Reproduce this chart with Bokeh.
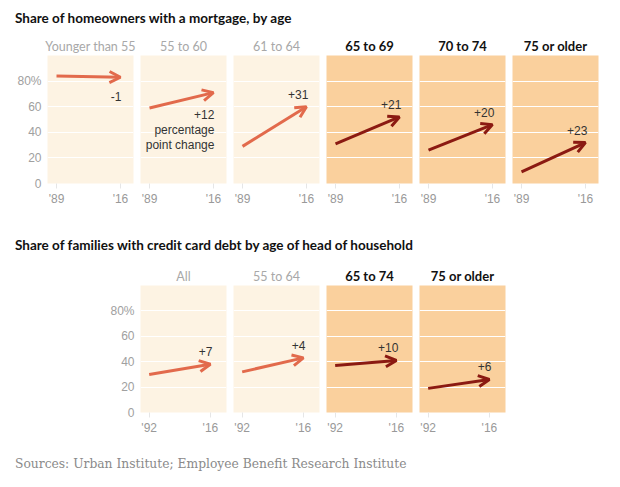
from bokeh.plotting import figure
from bokeh.models import (ColumnDataSource, Arrow, OpenHead, FixedTicker, Range1d,
                          Div, Spacer)
from bokeh.layouts import row, column
from bokeh.embed import file_html
from bokeh.resources import INLINE
from bokeh.core.properties import value

# ---------------- data ----------------
mort_groups = ["Younger than 55", "55 to 60", "61 to 64", "65 to 69", "70 to 74", "75 or older"]
mort_1989 = [84, 59, 29, 31, 26, 9]
mort_2016 = [83, 71, 60, 52, 46, 32]
mort_change = ["-1", "+12\npercentage\npoint change", "+31", "+21", "+20", "+23"]
mort_years = [1989, 2016]
mort_year_labels = ["'89", "'16"]

cc_groups = ["All", "55 to 64", "65 to 74", "75 or older"]
cc_1992 = [30, 32, 37, 19]
cc_2016 = [38, 43, 41, 26]
cc_change = ["+7", "+4", "+10", "+6"]
cc_years = [1992, 2016]
cc_year_labels = ["'92", "'16"]

y_ticks = [0, 20, 40, 60, 80]
y_tick_labels = ["0", "20", "40", "60", "80%"]

older_groups = {"65 to 69", "70 to 74", "75 or older", "65 to 74"}
labels_below = {"Younger than 55", "55 to 60"}

# ---------------- styles ----------------
LIGHT_BG = "#fdf3e3"
DARK_BG = "#fad09d"
LIGHT_ARROW = "#e26a4c"
DARK_ARROW = "#8b1a12"
HEAD = "Lato"
SANS = "Liberation Sans"


def panel(group, start, end, change, years, year_labels, xr, frame_h, first):
    older = group in older_groups
    left = 39 if first else 0
    p = figure(width=left + 86 + 7, height=20 + frame_h + 25,
               x_range=Range1d(*xr), y_range=Range1d(0, 100),
               output_backend="svg", toolbar_location=None,
               min_border=0, min_border_left=left, min_border_right=7,
               min_border_top=20, min_border_bottom=25,
               y_axis_location="left" if first else None)
    p.background_fill_color = DARK_BG if older else LIGHT_BG
    p.border_fill_color = "white"
    p.outline_line_color = None
    p.title.text = group
    p.title.align = "center"
    p.title.text_font = HEAD
    p.title.standoff = 3
    if older:
        p.title.text_font_style = "bold"
        p.title.text_font_size = "13px"
        p.title.text_color = "#111111"
    else:
        p.title.text_font_style = "normal"
        p.title.text_font_size = "12.5px"
        p.title.text_color = "#a8a8a8"

    p.xgrid.visible = False
    p.ygrid.ticker = FixedTicker(ticks=y_ticks[1:])
    p.ygrid.grid_line_color = "white"
    p.ygrid.grid_line_width = 1.2

    xa = p.xaxis[0]
    xa.ticker = FixedTicker(ticks=years)
    xa.major_label_overrides = dict(zip(years, year_labels))
    xa.axis_line_color = None
    xa.major_tick_in = 0
    xa.major_tick_out = 5
    xa.major_tick_line_color = "#e6e6e6"
    xa.minor_tick_line_color = None
    xa.major_label_standoff = 3
    xa.major_label_text_font = SANS
    xa.major_label_text_font_size = "12px"
    xa.major_label_text_color = "#999999"

    if first:
        ya = p.yaxis[0]
        ya.ticker = FixedTicker(ticks=y_ticks)
        ya.major_label_overrides = dict(zip(y_ticks, y_tick_labels))
        ya.axis_line_color = None
        ya.major_tick_line_color = None
        ya.major_tick_in = 0
        ya.major_tick_out = 0
        ya.minor_tick_line_color = None
        ya.major_label_standoff = 6
        ya.major_label_text_font = SANS
        ya.major_label_text_font_size = "12px"
        ya.major_label_text_color = "#a0a0a0"

    col = DARK_ARROW if older else LIGHT_ARROW
    src = ColumnDataSource(dict(x0=[years[0]], y0=[start], x1=[years[1]], y1=[end]))
    p.add_layout(Arrow(source=src, x_start="x0", y_start="y0", x_end="x1", y_end="y1",
                       line_color=col, line_width=3,
                       end=OpenHead(size=11, line_color=col, line_width=3)))

    tsrc = ColumnDataSource(dict(x=[years[1]], y=[end], t=[change]))
    if group in labels_below:
        p.text("x", "y", text="t", source=tsrc, text_align="right", text_baseline="top",
               x_offset=1, y_offset=15, text_font=value(SANS), text_font_size="12px",
               text_color="#333333", text_line_height=1.1)
    else:
        p.text("x", "y", text="t", source=tsrc, text_align="right", text_baseline="bottom",
               x_offset=2, y_offset=-8, text_font=value(SANS), text_font_size="12px",
               text_color="#333333")
    return p


top_figs = [panel(g, a, b, c, mort_years, mort_year_labels, (1985.2, 2021.5), 129, i == 0)
            for i, (g, a, b, c) in enumerate(zip(mort_groups, mort_1989, mort_2016, mort_change))]
bot_figs = [panel(g, a, b, c, cc_years, cc_year_labels, (1988.6, 2022.3), 128, i == 0)
            for i, (g, a, b, c) in enumerate(zip(cc_groups, cc_1992, cc_2016, cc_change))]

title_style = ("font-family:Lato,sans-serif;font-weight:bold;line-height:16px;"
               "font-size:13.5px;color:#111;white-space:nowrap;margin-left:7px;")
div1 = Div(text=f'<div style="{title_style}padding-top:2px;">Share of homeowners with a mortgage, by age</div>',
           width=600, height=26, margin=0)
div2 = Div(text=f'<div style="{title_style}padding-top:29px;">Share of families with credit card debt by age of head of household</div>',
           width=600, height=56, margin=0)
div3 = Div(text='<div style="font-family:\'DejaVu Serif\',serif;font-size:12.3px;line-height:14px;color:#8a8a8a;'
                'white-space:nowrap;margin-left:7px;padding-top:20px;">'
                'Sources: Urban Institute; Employee Benefit Research Institute</div>',
           width=600, height=40, margin=0)

layout = column(div1, row(*top_figs), div2,
                row(Spacer(width=93, height=173), *bot_figs), div3,
                margin=(8, 0, 0, 8))

open("out.html", "w").write(file_html(layout, INLINE))
